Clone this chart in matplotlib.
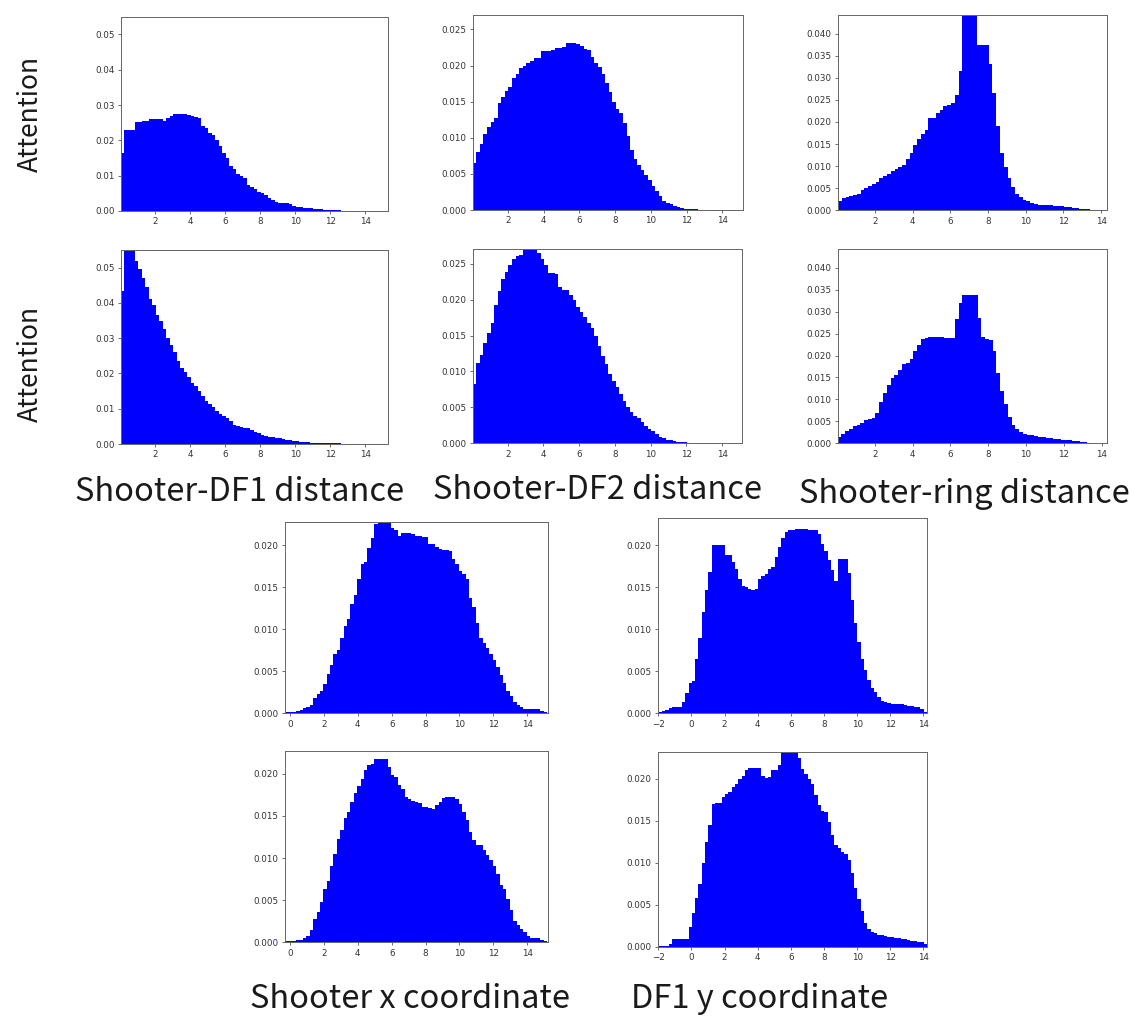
import numpy as np
import matplotlib
matplotlib.use("Agg")
import matplotlib.pyplot as plt

# ---------------- data (bin heights, bin width 0.2) ----------------
df1_att1 = [0.0165, 0.0228, 0.0229, 0.0230, 0.0253, 0.0253, 0.0254, 0.0255, 0.0260, 0.0260, 0.0260, 0.0260, 0.0255, 0.0263, 0.0270, 0.0274, 0.0275, 0.0275, 0.0275, 0.0273, 0.0268, 0.0266, 0.0262, 0.0240, 0.0235, 0.0222, 0.0215, 0.0200, 0.0185, 0.0165, 0.0150, 0.0128, 0.0120, 0.0105, 0.0098, 0.0092, 0.0075, 0.0068, 0.0063, 0.0055, 0.0050, 0.0045, 0.0038, 0.0032, 0.0026, 0.0024, 0.0022, 0.0022, 0.0019, 0.0014, 0.0010, 0.0010, 0.0009, 0.0009, 0.0008, 0.0007, 0.0006, 0.0005, 0.0004, 0.0003, 0.0002, 0.0002, 0.0002, 0.0001, 0.0001, 0.0001, 0.00005, 0.00005, 0.00003, 0.00002]
df1_att2 = [0.0433, 0.0600, 0.0590, 0.0570, 0.0520, 0.0495, 0.0470, 0.0445, 0.0410, 0.0395, 0.0365, 0.0350, 0.0325, 0.0300, 0.0280, 0.0260, 0.0235, 0.0215, 0.0205, 0.0190, 0.0172, 0.0165, 0.0150, 0.0135, 0.0122, 0.0113, 0.0105, 0.0093, 0.0085, 0.0078, 0.0073, 0.0065, 0.0055, 0.0050, 0.0047, 0.0045, 0.0044, 0.0040, 0.0035, 0.0030, 0.0026, 0.0023, 0.0020, 0.0019, 0.0017, 0.0016, 0.0014, 0.0012, 0.0010, 0.0009, 0.0008, 0.0007, 0.0006, 0.0005, 0.0004, 0.0004, 0.0003, 0.0003, 0.0002, 0.0002, 0.0002, 0.0002, 0.0002, 0.0001, 0.0001, 0.0001, 0.0001]
df2_att1 = [0.0065, 0.0080, 0.0092, 0.0105, 0.0115, 0.0122, 0.0128, 0.0148, 0.0157, 0.0165, 0.0170, 0.0183, 0.0189, 0.0197, 0.0199, 0.0203, 0.0206, 0.0211, 0.0211, 0.0220, 0.0220, 0.0220, 0.0221, 0.0225, 0.0225, 0.0226, 0.0231, 0.0231, 0.0231, 0.0230, 0.0227, 0.0223, 0.0222, 0.0212, 0.0203, 0.0198, 0.0188, 0.0176, 0.0164, 0.0150, 0.0140, 0.0135, 0.0120, 0.0102, 0.0083, 0.0070, 0.0063, 0.0055, 0.0048, 0.0041, 0.0033, 0.0026, 0.0019, 0.0013, 0.0010, 0.0008, 0.0006, 0.0004, 0.0003, 0.0002, 0.00015, 0.0001, 0.0001, 0.00005, 0.00005, 0.00004, 0.00003, 0.00002, 0.00002, 0.00001]
df2_att2 = [0.0082, 0.0112, 0.0123, 0.0140, 0.0153, 0.0168, 0.0192, 0.0212, 0.0228, 0.0238, 0.0248, 0.0257, 0.0260, 0.0262, 0.0272, 0.0280, 0.0280, 0.0275, 0.0265, 0.0256, 0.0248, 0.0237, 0.0237, 0.0235, 0.0218, 0.0213, 0.0213, 0.0206, 0.0199, 0.0190, 0.0183, 0.0176, 0.0168, 0.0161, 0.0149, 0.0136, 0.0121, 0.0110, 0.0097, 0.0087, 0.0078, 0.0068, 0.0059, 0.0051, 0.0044, 0.0038, 0.0035, 0.0030, 0.0024, 0.0020, 0.0017, 0.0013, 0.0009, 0.0007, 0.0005, 0.0004, 0.0003, 0.0002, 0.0002, 0.0002, 0.0001, 0.0001, 0.0001, 0.0001, 0.0001, 0.0001, 0.0001, 0.0001, 0.0001]
ring_att1 = [0.0020, 0.0027, 0.0031, 0.0033, 0.0034, 0.0038, 0.0045, 0.0051, 0.0054, 0.0059, 0.0063, 0.0072, 0.0078, 0.0083, 0.0088, 0.0093, 0.0097, 0.0103, 0.0115, 0.0130, 0.0148, 0.0162, 0.0172, 0.0182, 0.0208, 0.0210, 0.0220, 0.0227, 0.0237, 0.0238, 0.0242, 0.0262, 0.0315, 0.0480, 0.0500, 0.0500, 0.0480, 0.0375, 0.0375, 0.0375, 0.0330, 0.0265, 0.0190, 0.0130, 0.0098, 0.0072, 0.0052, 0.0038, 0.0029, 0.0024, 0.0020, 0.0017, 0.0015, 0.0013, 0.0012, 0.0012, 0.0011, 0.0010, 0.0009, 0.0009, 0.0008, 0.0007, 0.0006, 0.0005, 0.0004, 0.0003, 0.0002, 0.0001, 0.0001]
ring_att2 = [0.0015, 0.0021, 0.0027, 0.0032, 0.0039, 0.0042, 0.0046, 0.0052, 0.0056, 0.0058, 0.0068, 0.0095, 0.0115, 0.0132, 0.0148, 0.0155, 0.0166, 0.0180, 0.0182, 0.0192, 0.0210, 0.0224, 0.0237, 0.0240, 0.0242, 0.0243, 0.0243, 0.0242, 0.0241, 0.0240, 0.0240, 0.0283, 0.0320, 0.0337, 0.0337, 0.0337, 0.0337, 0.0285, 0.0242, 0.0237, 0.0236, 0.0210, 0.0160, 0.0120, 0.0090, 0.0060, 0.0042, 0.0032, 0.0025, 0.0021, 0.0020, 0.0018, 0.0017, 0.0015, 0.0014, 0.0012, 0.0011, 0.0010, 0.0009, 0.0008, 0.0008, 0.0007, 0.0006, 0.0005, 0.0003, 0.0002, 0.0001]
sx_att1 = [0.0001, 0.0001, 0.0002, 0.0003, 0.0004, 0.0006, 0.0007, 0.0010, 0.0018, 0.0023, 0.0026, 0.0035, 0.0047, 0.0057, 0.0070, 0.0075, 0.0090, 0.0104, 0.0112, 0.0130, 0.0141, 0.0160, 0.0177, 0.0180, 0.0196, 0.0208, 0.0225, 0.0232, 0.0235, 0.0233, 0.0228, 0.0220, 0.0218, 0.0211, 0.0214, 0.0214, 0.0214, 0.0213, 0.0211, 0.0211, 0.0210, 0.0210, 0.0201, 0.0201, 0.0198, 0.0195, 0.0194, 0.0194, 0.0193, 0.0183, 0.0178, 0.0169, 0.0165, 0.0160, 0.0137, 0.0126, 0.0107, 0.0090, 0.0084, 0.0078, 0.0070, 0.0063, 0.0055, 0.0046, 0.0036, 0.0027, 0.0020, 0.0014, 0.0010, 0.0007, 0.0005, 0.0005, 0.0005, 0.0005, 0.0005, 0.0003, 0.0001]
sx_att2 = [0.0001, 0.0001, 0.0002, 0.0003, 0.0003, 0.0005, 0.0008, 0.0015, 0.0028, 0.0036, 0.0048, 0.0063, 0.0073, 0.0090, 0.0105, 0.0122, 0.0133, 0.0148, 0.0155, 0.0167, 0.0177, 0.0186, 0.0194, 0.0205, 0.0210, 0.0212, 0.0218, 0.0218, 0.0218, 0.0218, 0.0208, 0.0198, 0.0196, 0.0187, 0.0182, 0.0173, 0.0170, 0.0168, 0.0166, 0.0165, 0.0161, 0.0160, 0.0159, 0.0158, 0.0163, 0.0167, 0.0171, 0.0173, 0.0173, 0.0173, 0.0170, 0.0164, 0.0155, 0.0145, 0.0131, 0.0121, 0.0116, 0.0115, 0.0109, 0.0104, 0.0098, 0.0091, 0.0081, 0.0068, 0.0063, 0.0051, 0.0038, 0.0025, 0.0020, 0.0016, 0.0012, 0.0008, 0.0005, 0.0005, 0.0005, 0.0003, 0.0001]
dfy_att1 = [0.0002, 0.0003, 0.0004, 0.0006, 0.0007, 0.0007, 0.0008, 0.0013, 0.0024, 0.0036, 0.0038, 0.0065, 0.0090, 0.0120, 0.0147, 0.0168, 0.0200, 0.0200, 0.0200, 0.0200, 0.0188, 0.0188, 0.0180, 0.0172, 0.0160, 0.0151, 0.0150, 0.0148, 0.0147, 0.0148, 0.0160, 0.0163, 0.0166, 0.0172, 0.0174, 0.0186, 0.0198, 0.0208, 0.0216, 0.0218, 0.0218, 0.0219, 0.0219, 0.0219, 0.0219, 0.0218, 0.0218, 0.0218, 0.0213, 0.0202, 0.0193, 0.0182, 0.0170, 0.0157, 0.0183, 0.0183, 0.0183, 0.0167, 0.0135, 0.0108, 0.0085, 0.0065, 0.0051, 0.0040, 0.0030, 0.0025, 0.0019, 0.0015, 0.0013, 0.0012, 0.0011, 0.0011, 0.0011, 0.0011, 0.0010, 0.0009, 0.0009, 0.0008, 0.0007, 0.0005, 0.0002]
dfy_att2 = [0.0001, 0.0001, 0.0001, 0.0003, 0.0009, 0.0009, 0.0009, 0.0009, 0.0009, 0.0024, 0.0040, 0.0058, 0.0075, 0.0100, 0.0125, 0.0145, 0.0170, 0.0171, 0.0171, 0.0178, 0.0182, 0.0184, 0.0190, 0.0193, 0.0199, 0.0203, 0.0210, 0.0213, 0.0213, 0.0213, 0.0213, 0.0203, 0.0201, 0.0202, 0.0210, 0.0210, 0.0216, 0.0236, 0.0240, 0.0245, 0.0240, 0.0236, 0.0224, 0.0212, 0.0205, 0.0200, 0.0194, 0.0180, 0.0168, 0.0162, 0.0160, 0.0148, 0.0133, 0.0121, 0.0117, 0.0113, 0.0110, 0.0103, 0.0088, 0.0070, 0.0057, 0.0043, 0.0028, 0.0021, 0.0018, 0.0016, 0.0014, 0.0014, 0.0013, 0.0012, 0.0011, 0.0010, 0.0010, 0.0009, 0.0009, 0.0008, 0.0007, 0.0007, 0.0006, 0.0005, 0.0003]

bin_width = 0.2
# first bin edge of each variable
bin_start = {"df1": 0.01, "df2": 0.04, "ring": 0.035, "sx": -0.236, "dfy": -1.98}

row_labels = ["Attention", "Attention"]
top_titles = ["Shooter-DF1 distance", "Shooter-DF2 distance", "Shooter-ring distance"]
bottom_titles = ["Shooter x coordinate", "DF1 y coordinate"]

# ---------------- figure ----------------
W, H = 1133, 1019
fig = plt.figure(figsize=(W / 100, H / 100), dpi=100)


def add_ax(l, r, t, b):
    return fig.add_axes([l / W, 1 - b / H, (r - l) / W, (b - t) / H])


panels = [
    # (data, var, box(l,r,t,b), xlim, ylim)
    (df1_att1, "df1", (120.7, 388, 16.7, 211), (0.01, 15.3), 0.055),
    (df2_att1, "df2", (472.7, 742.7, 15, 210), (0.04, 15.13), 0.027),
    (ring_att1, "ring", (838, 1106.7, 15, 210.3), (0.035, 14.3), 0.0442),
    (df1_att2, "df1", (120.7, 388, 250, 444), (0.01, 15.3), 0.055),
    (df2_att2, "df2", (472.7, 742.3, 249.3, 443.3), (0.04, 15.13), 0.027),
    (ring_att2, "ring", (837.7, 1107.3, 249.3, 443.3), (0.035, 14.3), 0.0442),
    (sx_att1, "sx", (285, 548.3, 522.3, 713.3), (-0.295, 15.24), 0.0227),
    (dfy_att1, "dfy", (657.7, 926.7, 518.3, 713.3), (-2.04, 14.2), 0.0232),
    (sx_att2, "sx", (285, 548.3, 751, 942.3), (-0.295, 15.24), 0.0227),
    (dfy_att2, "dfy", (657.7, 926.7, 751.7, 946.7), (-2.04, 14.2), 0.0232),
]

for vals, var, box, xl, yl in panels:
    ax = add_ax(*box)
    v = np.asarray(vals)
    edges = bin_start[var] + bin_width * np.arange(len(v) + 1)
    ax.stairs(v, edges, fill=True, color="#0000ff", linewidth=0)
    ax.set_xlim(*xl)
    ax.set_ylim(0, yl)
    ax.tick_params(labelsize=6.3, length=2.5, width=0.5, pad=2, colors="#333333")
    for s in ax.spines.values():
        s.set_linewidth(0.7)
        s.set_color("#666666")

lab_font = ["Noto Sans CJK SC", "DejaVu Sans"]
fs_row = 19
fs = 23.5
fig.text(30 / W, 1 - 114 / H, row_labels[0], rotation=90, ha="center", va="center",
         fontsize=fs_row, family=lab_font, fontweight="light", color="#1a1a1a")
fig.text(30 / W, 1 - 364 / H, row_labels[1], rotation=90, ha="center", va="center",
         fontsize=fs_row, family=lab_font, fontweight="light", color="#1a1a1a")
for x, y, t in zip([240, 598, 964], [492, 490, 494], top_titles):
    fig.text(x / W, 1 - y / H, t, ha="center", va="center", fontsize=fs,
             family=lab_font, fontweight="light", color="#1a1a1a")
for x, y, t in zip([410, 760], [999, 999], bottom_titles):
    fig.text(x / W, 1 - y / H, t, ha="center", va="center", fontsize=fs,
             family=lab_font, fontweight="light", color="#1a1a1a")

fig.savefig("out.png", dpi=100, facecolor="white")
